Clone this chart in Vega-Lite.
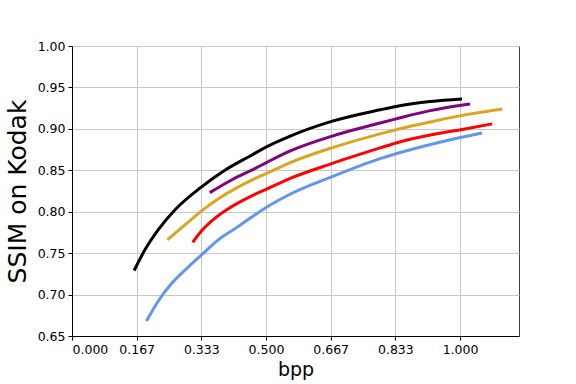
{
  "$schema": "https://vega.github.io/schema/vega-lite/v6.json",
  "autosize": "none",
  "width": 447,
  "height": 290,
  "padding": {"left": 72, "top": 46, "right": 57, "bottom": 48},
  "background": "white",
  "config": {
    "view": {"stroke": "#444", "strokeWidth": 1},
    "font": "DejaVu Sans"
  },
  "data": {
    "values": [
      {"s": "black", "bpp": 0.160, "ssim": 0.729},
      {"s": "black", "bpp": 0.188, "ssim": 0.754},
      {"s": "black", "bpp": 0.222, "ssim": 0.778},
      {"s": "black", "bpp": 0.265, "ssim": 0.802},
      {"s": "black", "bpp": 0.334, "ssim": 0.830},
      {"s": "black", "bpp": 0.394, "ssim": 0.850},
      {"s": "black", "bpp": 0.458, "ssim": 0.867},
      {"s": "black", "bpp": 0.500, "ssim": 0.878},
      {"s": "black", "bpp": 0.561, "ssim": 0.891},
      {"s": "black", "bpp": 0.669, "ssim": 0.909},
      {"s": "black", "bpp": 0.794, "ssim": 0.923},
      {"s": "black", "bpp": 0.835, "ssim": 0.927},
      {"s": "black", "bpp": 0.923, "ssim": 0.933},
      {"s": "black", "bpp": 1.005, "ssim": 0.936},

      {"s": "purple", "bpp": 0.355, "ssim": 0.823},
      {"s": "purple", "bpp": 0.410, "ssim": 0.838},
      {"s": "purple", "bpp": 0.471, "ssim": 0.852},
      {"s": "purple", "bpp": 0.500, "ssim": 0.859},
      {"s": "purple", "bpp": 0.561, "ssim": 0.873},
      {"s": "purple", "bpp": 0.669, "ssim": 0.891},
      {"s": "purple", "bpp": 0.794, "ssim": 0.907},
      {"s": "purple", "bpp": 0.835, "ssim": 0.912},
      {"s": "purple", "bpp": 0.923, "ssim": 0.922},
      {"s": "purple", "bpp": 1.026, "ssim": 0.930},

      {"s": "gold", "bpp": 0.246, "ssim": 0.766},
      {"s": "gold", "bpp": 0.291, "ssim": 0.784},
      {"s": "gold", "bpp": 0.334, "ssim": 0.801},
      {"s": "gold", "bpp": 0.385, "ssim": 0.818},
      {"s": "gold", "bpp": 0.458, "ssim": 0.837},
      {"s": "gold", "bpp": 0.500, "ssim": 0.846},
      {"s": "gold", "bpp": 0.561, "ssim": 0.859},
      {"s": "gold", "bpp": 0.669, "ssim": 0.877},
      {"s": "gold", "bpp": 0.794, "ssim": 0.894},
      {"s": "gold", "bpp": 0.835, "ssim": 0.899},
      {"s": "gold", "bpp": 0.940, "ssim": 0.910},
      {"s": "gold", "bpp": 1.002, "ssim": 0.916},
      {"s": "gold", "bpp": 1.109, "ssim": 0.924},

      {"s": "red", "bpp": 0.311, "ssim": 0.763},
      {"s": "red", "bpp": 0.334, "ssim": 0.777},
      {"s": "red", "bpp": 0.368, "ssim": 0.792},
      {"s": "red", "bpp": 0.411, "ssim": 0.806},
      {"s": "red", "bpp": 0.458, "ssim": 0.818},
      {"s": "red", "bpp": 0.500, "ssim": 0.827},
      {"s": "red", "bpp": 0.561, "ssim": 0.840},
      {"s": "red", "bpp": 0.669, "ssim": 0.858},
      {"s": "red", "bpp": 0.794, "ssim": 0.877},
      {"s": "red", "bpp": 0.835, "ssim": 0.883},
      {"s": "red", "bpp": 0.940, "ssim": 0.894},
      {"s": "red", "bpp": 1.002, "ssim": 0.899},
      {"s": "red", "bpp": 1.083, "ssim": 0.906},

      {"s": "blue", "bpp": 0.192, "ssim": 0.668},
      {"s": "blue", "bpp": 0.222, "ssim": 0.692},
      {"s": "blue", "bpp": 0.256, "ssim": 0.713},
      {"s": "blue", "bpp": 0.299, "ssim": 0.733},
      {"s": "blue", "bpp": 0.334, "ssim": 0.748},
      {"s": "blue", "bpp": 0.377, "ssim": 0.766},
      {"s": "blue", "bpp": 0.428, "ssim": 0.782},
      {"s": "blue", "bpp": 0.471, "ssim": 0.796},
      {"s": "blue", "bpp": 0.500, "ssim": 0.805},
      {"s": "blue", "bpp": 0.553, "ssim": 0.819},
      {"s": "blue", "bpp": 0.669, "ssim": 0.842},
      {"s": "blue", "bpp": 0.794, "ssim": 0.864},
      {"s": "blue", "bpp": 0.835, "ssim": 0.870},
      {"s": "blue", "bpp": 0.940, "ssim": 0.883},
      {"s": "blue", "bpp": 1.057, "ssim": 0.895}
    ]
  },
  "mark": {"type": "line", "strokeWidth": 3, "strokeCap": "butt", "strokeJoin": "round", "interpolate": "monotone", "clip": true},
  "encoding": {
    "x": {
      "field": "bpp", "type": "quantitative",
      "scale": {"domain": [0, 1.152], "nice": false, "zero": false},
      "axis": {
        "title": "bpp",
        "values": [0, 0.16667, 0.33333, 0.5, 0.66667, 0.83333, 1.0],
        "format": ".3f",
        "titleFont": "DejaVu Sans", "titleFontSize": 19, "titleFontWeight": "normal", "titleColor": "black", "titlePadding": 5,
        "labelFont": "DejaVu Sans", "labelFontSize": 12.5, "labelColor": "black", "labelPadding": 3,
        "domainColor": "black", "tickColor": "black", "tickSize": 4,
        "gridColor": "#c8c8c8", "gridWidth": 1
      }
    },
    "y": {
      "field": "ssim", "type": "quantitative",
      "scale": {"domain": [0.65, 1.0], "nice": false, "zero": false},
      "axis": {
        "title": "SSIM on Kodak",
        "values": [0.65, 0.7, 0.75, 0.8, 0.85, 0.9, 0.95, 1.0],
        "format": ".2f",
        "titleFont": "DejaVu Sans", "titleFontSize": 25, "titleFontWeight": "normal", "titleColor": "black", "titlePadding": 7,
        "labelFont": "DejaVu Sans", "labelFontSize": 12.5, "labelColor": "black", "labelPadding": 3,
        "domainColor": "black", "tickColor": "black", "tickSize": 4,
        "gridColor": "#c8c8c8", "gridWidth": 1
      }
    },
    "color": {
      "field": "s", "type": "nominal",
      "scale": {"domain": ["black", "purple", "gold", "red", "blue"], "range": ["#000000", "#800080", "#DAA520", "#FF0000", "#6495ED"]},
      "legend": null
    },
    "detail": {"field": "s"}
  }
}
